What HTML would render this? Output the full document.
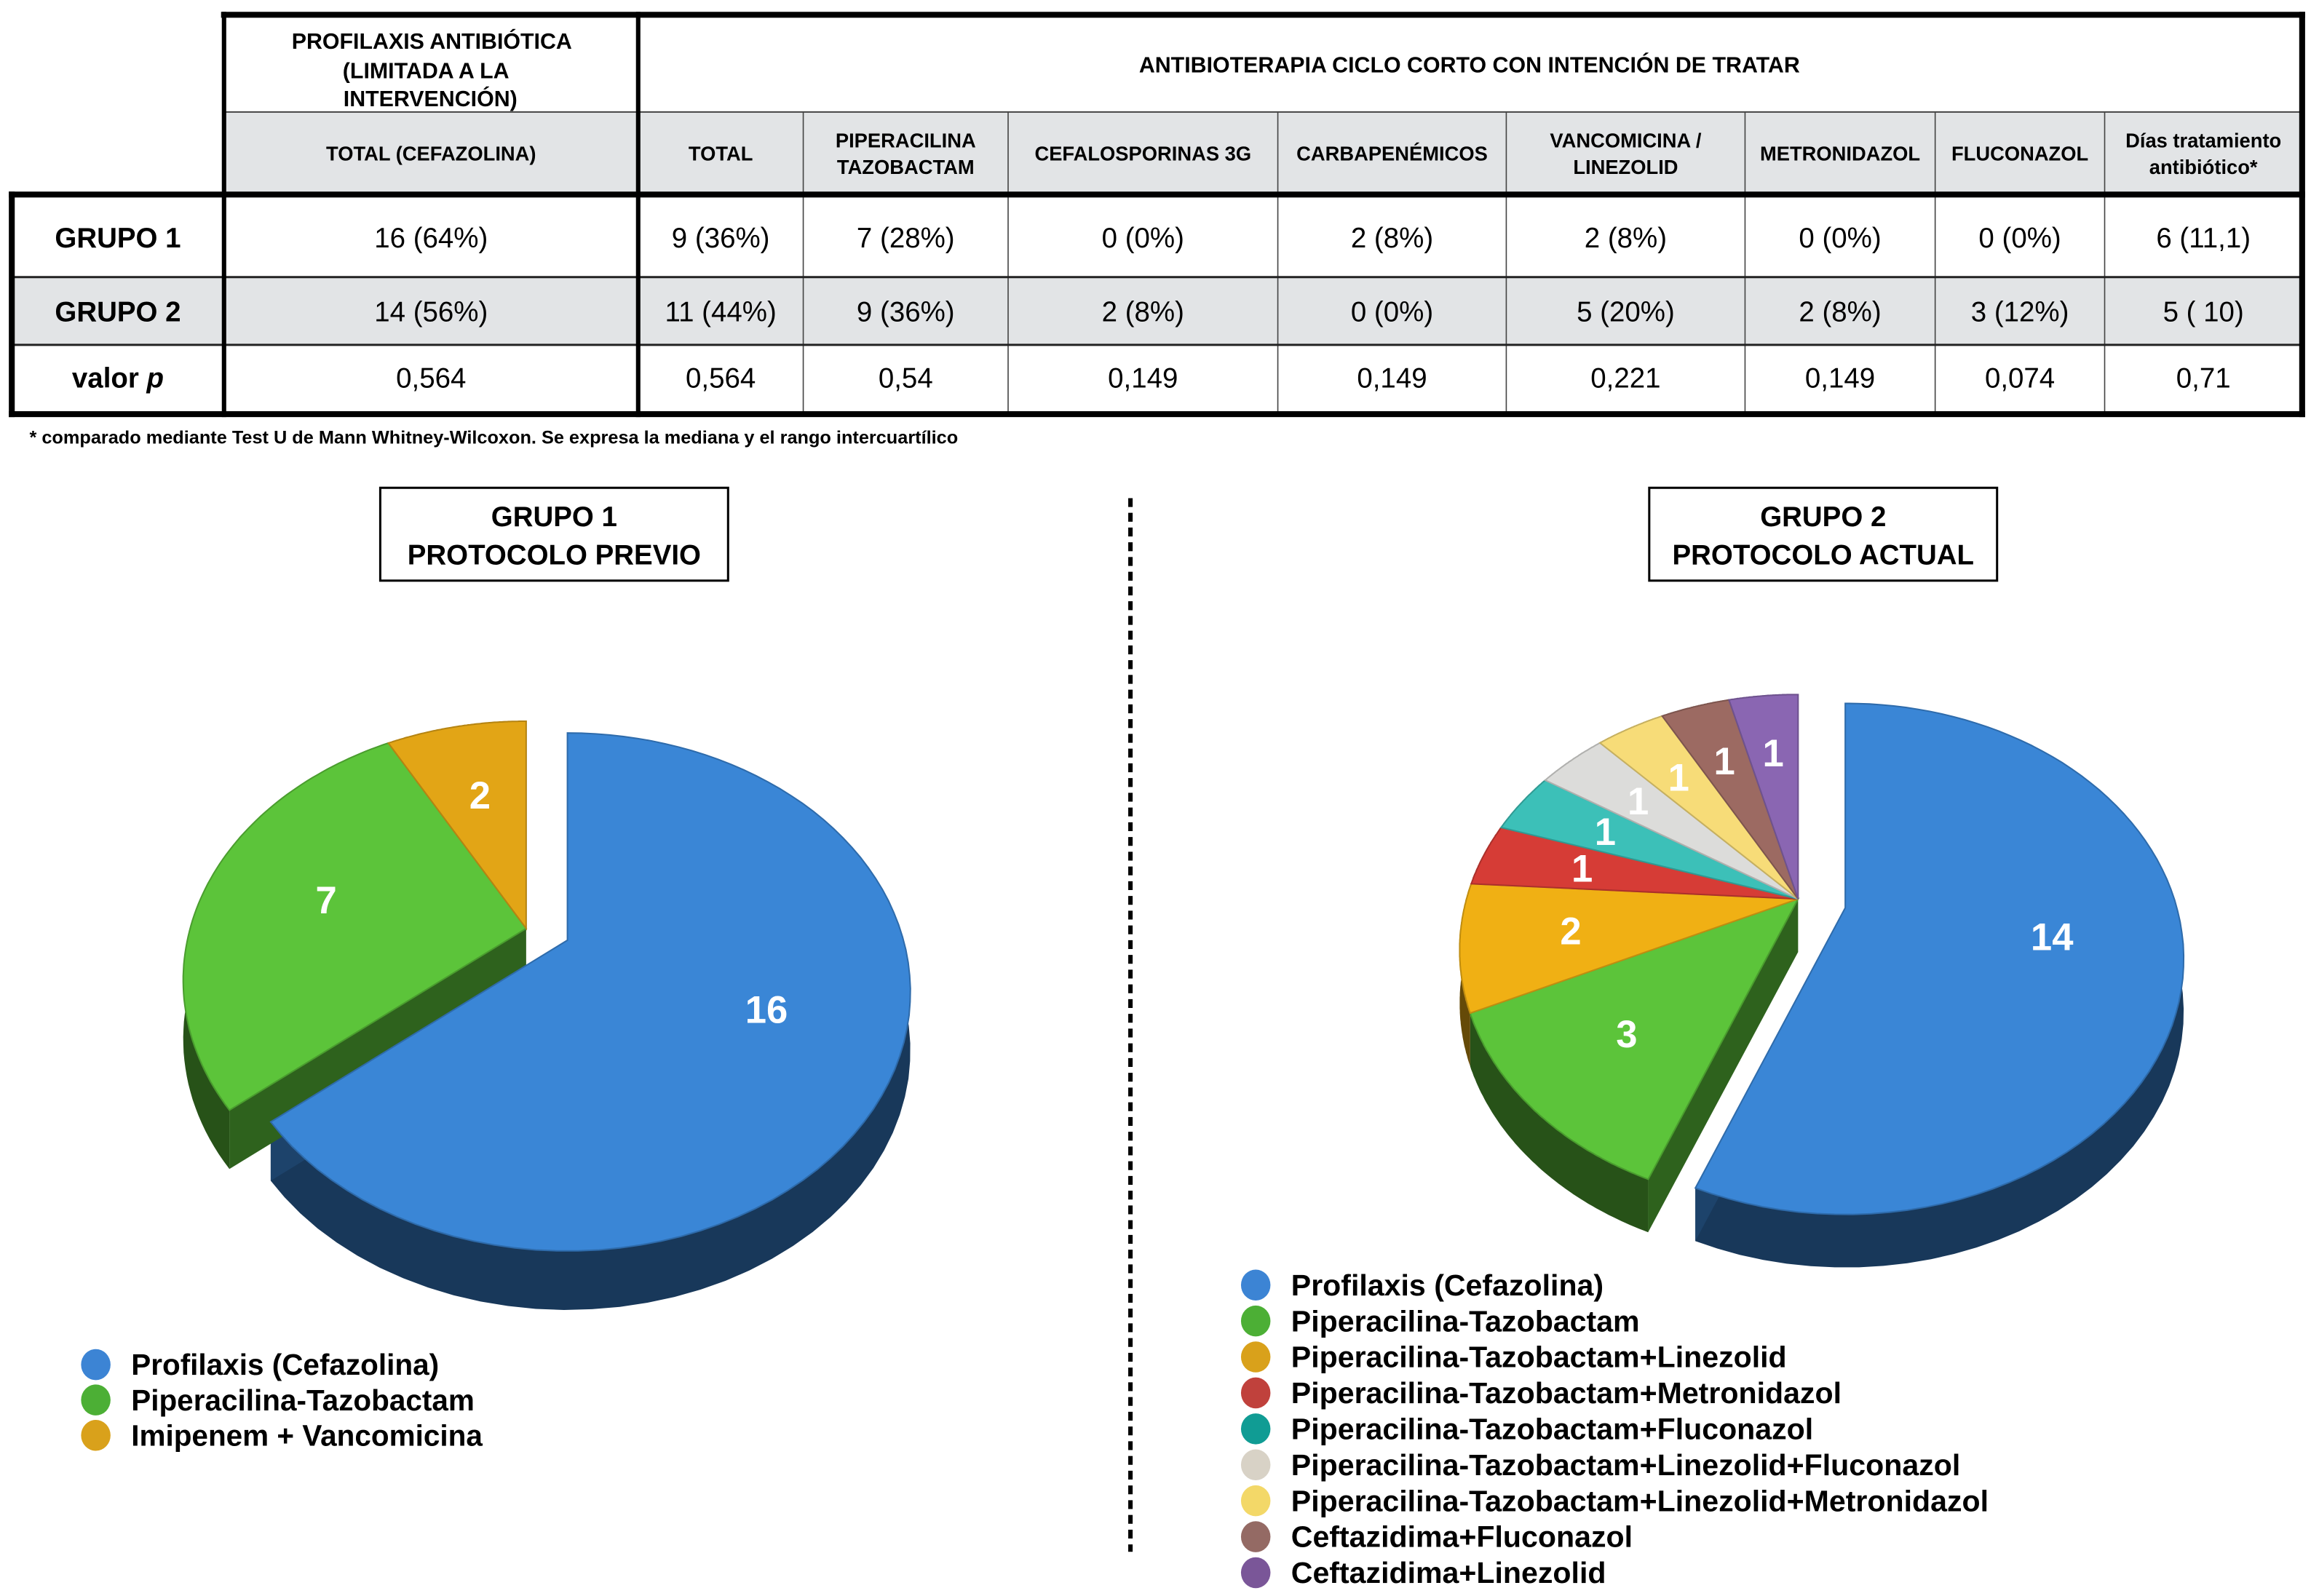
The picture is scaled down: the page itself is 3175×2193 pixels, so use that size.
<!DOCTYPE html>
<html><head><meta charset="utf-8"><style>
html,body{margin:0;padding:0;background:#fff}
svg{display:block}
text{font-family:"Liberation Sans",Arial,sans-serif}
</style></head><body>
<svg id="root" width="3175" height="2193" viewBox="0 0 1568 1083" xmlns="http://www.w3.org/2000/svg">
<g id="table"></g>
<text x="20" y="301" font-size="12.5" font-weight="bold">* comparado mediante Test U de Mann Whitney-Wilcoxon. Se expresa la mediana y el rango intercuartílico</text>
<g>
<rect x="258" y="331" width="236" height="63" fill="#fff" stroke="#000" stroke-width="1.5"/>
<text x="376" y="357" font-size="19" font-weight="bold" text-anchor="middle">GRUPO 1</text>
<text x="376" y="383" font-size="19" font-weight="bold" text-anchor="middle">PROTOCOLO PREVIO</text>
</g>
<g>
<rect x="1119" y="331" width="236" height="63" fill="#fff" stroke="#000" stroke-width="1.5"/>
<text x="1237" y="357" font-size="19" font-weight="bold" text-anchor="middle">GRUPO 2</text>
<text x="1237" y="383" font-size="19" font-weight="bold" text-anchor="middle">PROTOCOLO ACTUAL</text>
</g>
<line x1="767" y1="338" x2="767" y2="1053" stroke="#000" stroke-width="3" stroke-dasharray="6,4"/>
<g id="pie1"></g>
<g id="pie2"></g>
<g id="leg1"></g>
<g id="leg2"></g>
</svg>
<script>
const NS="http://www.w3.org/2000/svg";
// ---------- data ----------
const pie1Labels=["Profilaxis (Cefazolina)","Piperacilina-Tazobactam","Imipenem + Vancomicina"];
const pie1Values=[16,7,2];
const pie1Colors=["#3a86d6","#5cc43a","#e2a516"];
const pie2Labels=["Profilaxis (Cefazolina)","Piperacilina-Tazobactam","Piperacilina-Tazobactam+Linezolid","Piperacilina-Tazobactam+Metronidazol","Piperacilina-Tazobactam+Fluconazol","Piperacilina-Tazobactam+Linezolid+Fluconazol","Piperacilina-Tazobactam+Linezolid+Metronidazol","Ceftazidima+Fluconazol","Ceftazidima+Linezolid"];
const pie2Values=[14,3,2,1,1,1,1,1,1];
const pie2Colors=["#3a86d6","#5cc43a","#f0b014","#d63c36","#3cc0b8","#dcdcda","#f7dc78","#9c6a62","#8a66b2"];
const pie2Legend=["#3c84d4","#4caf35","#d9a11b","#c0413c","#109c94","#d8d2c6","#f3d868","#946a64","#7a5698"];

function el(tag,attrs,parent){const e=document.createElementNS(NS,tag);for(const k in attrs)e.setAttribute(k,attrs[k]);if(parent)parent.appendChild(e);return e;}
function shade(hex,f){const n=parseInt(hex.slice(1),16);let r=(n>>16)&255,g=(n>>8)&255,b=n&255;r=Math.round(r*f);g=Math.round(g*f);b=Math.round(b*f);return `rgb(${r},${g},${b})`;}

// ---------- table ----------
(function(){
const T=document.getElementById('table');
const xs=[8,152,433,545,684,867,1022,1184,1313,1428,1562];
el('rect',{x:152,y:76,width:1410,height:56,fill:'#e2e4e6'},T);
el('rect',{x:8,y:188,width:1554,height:46,fill:'#e2e4e6'},T);
for(let i=3;i<10;i++){el('line',{x1:xs[i],y1:76,x2:xs[i],y2:281,stroke:'#444','stroke-width':0.8},T);}
el('line',{x1:152,y1:76,x2:1562,y2:76,stroke:'#444','stroke-width':1},T);
el('line',{x1:8,y1:188,x2:1562,y2:188,stroke:'#222','stroke-width':1.5},T);
el('line',{x1:8,y1:234,x2:1562,y2:234,stroke:'#222','stroke-width':1.5},T);
const th={stroke:'#000','stroke-width':4};
el('line',Object.assign({x1:150,y1:10,x2:1564,y2:10},th),T);
el('line',Object.assign({x1:6,y1:132,x2:1564,y2:132},th),T);
el('line',Object.assign({x1:6,y1:281,x2:1564,y2:281},th),T);
el('line',Object.assign({x1:8,y1:130,x2:8,y2:283},th),T);
el('line',Object.assign({x1:1562,y1:8,x2:1562,y2:283},th),T);
el('line',{x1:152,y1:8,x2:152,y2:283,stroke:'#000','stroke-width':3},T);
el('line',{x1:433,y1:8,x2:433,y2:283,stroke:'#000','stroke-width':3},T);
function tx(x,y,s,size,w){const t=el('text',{x:x,y:y,'font-size':size,'font-weight':w||'normal','text-anchor':'middle'},T);t.textContent=s;return t;}
tx(293,33,'PROFILAXIS ANTIBIÓTICA',15,'bold');
tx(289,53,'(LIMITADA A LA',15,'bold');
tx(292,72,'INTERVENCIÓN)',15,'bold');
tx(997,49,'ANTIBIOTERAPIA CICLO CORTO CON INTENCIÓN DE TRATAR',15,'bold');
const h=[['TOTAL (CEFAZOLINA)'],['TOTAL'],['PIPERACILINA','TAZOBACTAM'],['CEFALOSPORINAS 3G'],['CARBAPENÉMICOS'],['VANCOMICINA /','LINEZOLID'],['METRONIDAZOL'],['FLUCONAZOL'],['Días tratamiento','antibiótico*']];
for(let i=0;i<9;i++){const cx=(xs[i+1]+xs[i+2])/2;
 if(h[i].length==1)tx(cx,109,h[i][0],13.5,'bold');else{tx(cx,100,h[i][0],13.5,'bold');tx(cx,118,h[i][1],13.5,'bold');}}
const rows=[['GRUPO 1','16 (64%)','9 (36%)','7 (28%)','0 (0%)','2 (8%)','2 (8%)','0 (0%)','0 (0%)','6 (11,1)'],
['GRUPO 2','14 (56%)','11 (44%)','9 (36%)','2 (8%)','0 (0%)','5 (20%)','2 (8%)','3 (12%)','5 ( 10)'],
['valor p','0,564','0,564','0,54','0,149','0,149','0,221','0,149','0,074','0,71']];
const ry=[168,218,263];
rows.forEach((r,ri)=>{r.forEach((c,ci)=>{const cx=(xs[ci]+xs[ci+1])/2;
 if(ci==0){if(ri==2){const t=tx(cx,ry[ri],'',19,'bold');t.innerHTML='valor <tspan font-style="italic">p</tspan>';}else tx(cx,ry[ri],c,19,'bold');}
 else tx(cx,ry[ri],c,19,'normal');});});
})();

// ---------- pies ----------
function drawPie(g,values,colors,o){
 const total=values.reduce((a,b)=>a+b,0);
 const proj=(cx,cy,a,r)=>{const x=Math.cos(a)*r,y=Math.sin(a)*r;const s=1/(1-o.p*y);return [cx+o.R*x*s,cy+o.R*y*o.k*s];};
 let a0=-Math.PI/2;const sl=[];
 values.forEach((v,i)=>{const a1=a0+v/total*2*Math.PI;const mid=(a0+a1)/2;const off=o.explode[i]||[0,0];sl.push({a0,a1,mid,cx:o.cx+off[0],cy:o.cy+off[1],v,c:colors[i],i,ex:!!o.explode[i]});a0=a1;});
 const D=o.depth;const n=sl.length;
 sl.forEach((s,si)=>{
  const N=60;const vis=[];
  for(let j=0;j<=N;j++){const a=s.a0+(s.a1-s.a0)*j/N;if(Math.sin(a)>-0.05)vis.push(proj(s.cx,s.cy,a,1));}
  if(vis.length>1){const d='M'+vis.map(p=>p[0].toFixed(1)+','+p[1].toFixed(1)).join(' L')+' L'+vis.slice().reverse().map(p=>p[0].toFixed(1)+','+(p[1]+D).toFixed(1)).join(' L')+'Z';
   const w=el('path',{d,fill:shade(s.c,0.42)},g);}
  const prev=sl[(si-1+n)%n],next=sl[(si+1)%n];
  [[s.a0,s.ex||prev.ex],[s.a1,s.ex||next.ex]].forEach(([a,show])=>{if(!show)return;const p=proj(s.cx,s.cy,a,1);
   const f=el('path',{d:`M${s.cx},${s.cy} L${p[0]},${p[1]} L${p[0]},${p[1]+D} L${s.cx},${s.cy+D}Z`,fill:shade(s.c,0.5)},g);});
 });
 sl.forEach(s=>{const N=80;let d=`M${s.cx},${s.cy}`;for(let j=0;j<=N;j++){const a=s.a0+(s.a1-s.a0)*j/N;const p=proj(s.cx,s.cy,a,1);d+=` L${p[0].toFixed(1)},${p[1].toFixed(1)}`;}d+='Z';
  const t=el('path',{d,fill:s.c,stroke:shade(s.c,0.8),'stroke-width':1},g);});
 sl.forEach(s=>{const lr=s.v>=10?0.62:(o.labelR||0.6);const p=proj(s.cx,s.cy,s.mid,lr);
  const t=el('text',{x:p[0],y:p[1]+9,'font-size':26,'font-weight':'bold',fill:'#fff','text-anchor':'middle'},g);t.textContent=s.v;});
}
drawPie(document.getElementById('pie1'),pie1Values,pie1Colors,{cx:357,cy:630,R:228,k:0.74,p:0.2,depth:40,explode:[[28,8]],labelR:0.62});
drawPie(document.getElementById('pie2'),pie2Values,pie2Colors,{cx:1220,cy:610,R:225,k:0.74,p:0.2,depth:36,explode:[[32,6]],labelR:0.68});

// ---------- legends ----------
function legend(g,labels,colors,x,y0,dy,fs){labels.forEach((l,i)=>{const y=y0+i*dy;
 const c=el('ellipse',{cx:x,cy:y,rx:10,ry:10.5,fill:colors[i]},g);
 const t=el('text',{x:x+24,y:y+7,'font-size':fs,'font-weight':'bold',fill:'#000'},g);t.textContent=l;});}
legend(document.getElementById('leg1'),pie1Labels,["#3c84d4","#4caf35","#d9a11b"],65,926,24,20);
legend(document.getElementById('leg2'),pie2Labels,pie2Legend,852,872,24.4,20.3);
</script>
</body></html>
